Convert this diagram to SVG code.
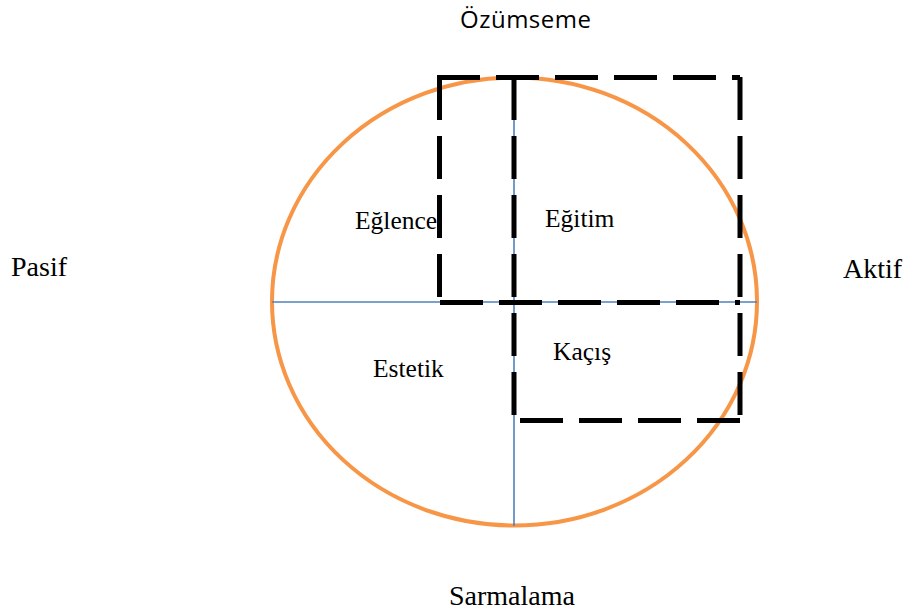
<svg xmlns="http://www.w3.org/2000/svg" width="910" height="612" viewBox="0 0 910 612">
<style>
.axis{stroke:#4F81BD;stroke-width:1.6;fill:none}
.ring{stroke:#F79646;stroke-width:4;fill:none}
.dash{stroke:#000;stroke-width:5;fill:none;stroke-dasharray:43 16}
.sans{font-family:'Open Sans','Liberation Sans',sans-serif;font-size:24px;fill:#000}
.serif{font-family:'Liberation Serif','DejaVu Serif',Times,serif;fill:#000}
.inner{font-size:25.5px}
.outer{font-size:28px}
</style>
<rect width="910" height="612" fill="#fff"/>
<g id="circle">
<ellipse class="ring" cx="514.5" cy="301.5" rx="242.5" ry="224"/>
</g>
<g id="connectors">
<line class="axis" x1="272" y1="302" x2="757" y2="302"/>
<line class="axis" x1="514" y1="77" x2="514" y2="526"/>
</g>
<g id="frames">
<path class="dash" d="M437,77.5 H740"/>
<path class="dash" d="M439.5,77 V302"/>
<path class="dash" d="M440,302.5 H740"/>
<path class="dash" d="M740,77 V420"/>
<path class="dash" d="M514,77 V420"/>
<path class="dash" d="M740,420.5 H514"/>
</g>
<g id="n-ozumseme"><text class="sans" x="460" y="28" textLength="131" lengthAdjust="spacing">Özümseme</text></g>
<g id="n-pasif"><text class="serif outer" x="11" y="276">Pasif</text></g>
<g id="n-aktif"><text class="serif outer" x="843" y="278">Aktif</text></g>
<g id="n-sarmalama"><text class="serif outer" x="449" y="605">Sarmalama</text></g>
<g id="n-eglence"><text class="serif inner" x="355" y="229">Eğlence</text></g>
<g id="n-egitim"><text class="serif inner" x="545" y="227">Eğitim</text></g>
<g id="n-estetik"><text class="serif inner" x="373" y="377">Estetik</text></g>
<g id="n-kacis"><text class="serif inner" x="553" y="360">Kaçış</text></g>
</svg>
